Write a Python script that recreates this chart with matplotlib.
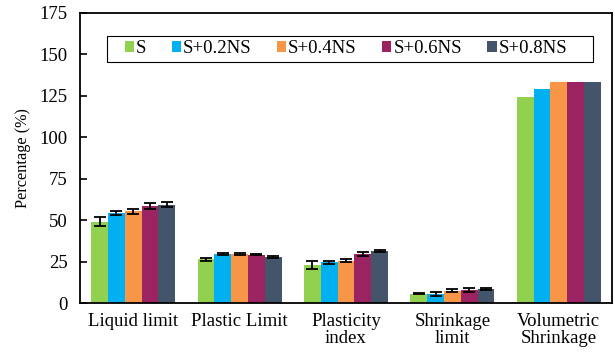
import numpy as np
import matplotlib.pyplot as plt
from matplotlib.patches import Rectangle

plt.rcParams['font.family'] = ['Liberation Serif', 'DejaVu Serif']

# Soil properties for each mix
properties = ["Liquid limit", "Plastic Limit", "Plasticity\nindex",
              "Shrinkage\nlimit", "Volumetric\nShrinkage"]
mixes = ["S", "S+0.2NS", "S+0.4NS", "S+0.6NS", "S+0.8NS"]
colors = ["#92D050", "#00B0F0", "#F79646", "#9B2361", "#44546A"]

s_vals = [49.0, 26.5, 22.9, 5.6, 124.5]
s02_vals = [54.2, 29.6, 24.5, 5.5, 129.1]
s04_vals = [55.4, 29.6, 25.7, 7.6, 133.4]
s06_vals = [58.6, 29.2, 29.6, 8.2, 133.4]
s08_vals = [59.3, 28.0, 31.5, 8.4, 133.4]

s_err = [2.7, 1.0, 2.4, 0.3, 0]
s02_err = [1.3, 0.4, 1.0, 1.4, 0]
s04_err = [1.6, 0.4, 1.0, 0.8, 0]
s06_err = [1.7, 0.4, 1.0, 1.2, 0]
s08_err = [1.4, 0.5, 0.8, 0.7, 0]

values = [s_vals, s02_vals, s04_vals, s06_vals, s08_vals]
errors = [s_err, s02_err, s04_err, s06_err, s08_err]

fig = plt.figure(figsize=(6.15, 3.6), dpi=100)
ax = fig.add_axes([0.130, 0.158, 0.865, 0.806])

x = np.arange(len(properties))
width = 0.158
for i, (mix, vals, errs, c) in enumerate(zip(mixes, values, errors, colors)):
    pos = x + (i - 2) * width
    ax.bar(pos, vals, width, color=c, label=mix, zorder=2)
    yerr = np.array(errs)
    has_err = yerr > 0
    ax.errorbar(pos[has_err], np.array(vals)[has_err], yerr=yerr[has_err],
                fmt="none", ecolor="black", elinewidth=1.3, capsize=4,
                capthick=1.3, zorder=3)

ax.set_xlim(-0.5, 4.5)
ax.set_ylim(0, 175)
ax.set_yticks(np.arange(0, 176, 25))
ax.set_xticks(x)
ax.set_xticklabels(properties, fontsize=13.5, linespacing=1.0)
ax.tick_params(axis="y", direction="in", length=5, width=1.2, labelsize=13.5, pad=9)
ax.tick_params(axis="x", length=0, pad=7)
ax.set_ylabel("Percentage (%)", fontsize=11.7, labelpad=6)

for sp in ax.spines.values():
    sp.set_linewidth(1.3)

# legend box drawn separately so the padding around the entries is wider
ax.add_patch(Rectangle((0.051, 0.831), 0.913, 0.09, transform=ax.transAxes,
                       fill=True, facecolor="white", edgecolor="black",
                       linewidth=0.8, zorder=4))
leg = ax.legend(ncol=5, loc="center", bbox_to_anchor=(0.500, 0.876),
                fontsize=13.5, frameon=False,
                handlelength=0.5, handleheight=0.5, handletextpad=0.1,
                borderpad=0.2, columnspacing=1.35)
leg.set_zorder(5)

fig.savefig("out.png", dpi=100)
